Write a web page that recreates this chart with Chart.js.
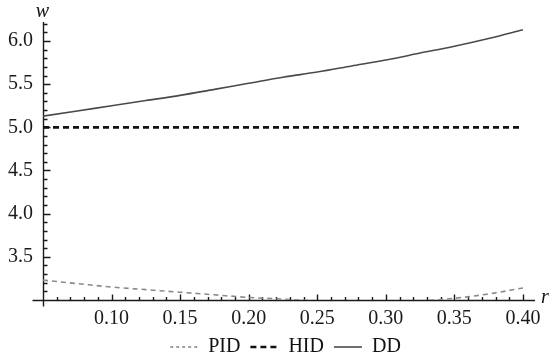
<!DOCTYPE html>
<html>
<head>
<meta charset="utf-8">
<script src="https://cdn.jsdelivr.net/npm/chart.js@4/dist/chart.umd.min.js"></script>
<style>
html, body { margin: 0; padding: 0; background: #fff; }
#wrap { width: 553px; height: 358px; }
</style>
</head>
<body>
<div id="wrap"><canvas id="myChart"></canvas></div>
<script>
// values
var rValues   = [0.05, 0.075, 0.10, 0.125, 0.15, 0.175, 0.20, 0.225, 0.25, 0.275, 0.30, 0.325, 0.35, 0.375, 0.40];
var pidValues = [3.23, 3.19, 3.15, 3.12, 3.09, 3.06, 3.03, 3.01, 2.99, 2.98, 2.98, 2.99, 3.02, 3.07, 3.14];
var hidValues = [5.0, 5.0, 5.0, 5.0, 5.0, 5.0, 5.0, 5.0, 5.0, 5.0, 5.0, 5.0, 5.0, 5.0, 5.0];
var ddValues  = [5.13, 5.19, 5.25, 5.31, 5.37, 5.44, 5.51, 5.58, 5.64, 5.71, 5.78, 5.86, 5.94, 6.03, 6.13];
var xTicks = [0.10, 0.15, 0.20, 0.25, 0.30, 0.35, 0.40];
var yTicks = [3.5, 4.0, 4.5, 5.0, 5.5, 6.0];

function pts(ys) {
    return rValues.map(function (r, i) { return { x: r, y: ys[i] }; });
}

var serif = "'Liberation Serif', 'Times New Roman', serif";

// Mathematica-like axes: crossing lines with major/minor ticks and italic axis names
var axesPlugin = {
    id: 'mmaAxes',
    afterLayout: function (chart) {
        // put the legend row where the original has it
        var lg = chart.legend;
        lg.top = 327; lg.bottom = 358;
        lg.left += 18; lg.right += 18;
    },
    beforeDatasetsDraw: function (chart) {
        var ctx = chart.ctx, xs = chart.scales.x, ys = chart.scales.y;
        var ax = Math.round(xs.getPixelForValue(0.05)) + 0.5;
        var ay = Math.round(ys.getPixelForValue(3.0)) + 0.5;
        ctx.save();
        ctx.strokeStyle = '#1a1a1a';
        ctx.lineWidth = 1.4;
        ctx.beginPath();
        ctx.moveTo(ax, ys.top);
        ctx.lineTo(ax, ay + 6);
        ctx.moveTo(ax - 11, ay);
        ctx.lineTo(xs.right, ay);
        // y ticks, every 0.1
        for (var i = 31; i <= 62; i++) {
            var py = Math.round(ys.getPixelForValue(i / 10)) + 0.5;
            var len = (i % 5 === 0) ? 7 : 4;
            ctx.moveTo(ax, py);
            ctx.lineTo(ax + len, py);
        }
        // x ticks, every 0.01
        for (var j = 6; j <= 40; j++) {
            var px = Math.round(xs.getPixelForValue(j / 100)) + 0.5;
            var l2 = (j % 5 === 0) ? 6 : 3.5;
            ctx.moveTo(px, ay);
            ctx.lineTo(px, ay - l2);
        }
        ctx.stroke();
        ctx.fillStyle = '#111';
        ctx.font = 'italic 20px ' + serif;
        ctx.textAlign = 'center';
        ctx.textBaseline = 'middle';
        ctx.fillText('w', ax - 1, ys.top - 10);
        ctx.textAlign = 'left';
        ctx.fillText('r', xs.right + 6, ay - 3);
        ctx.restore();
    }
};

var ctx = document.getElementById('myChart').getContext('2d');
var myChart = new Chart(ctx, {
    type: 'line',
    data: {
        datasets: [
            { label: 'PID', data: pts(pidValues), borderColor: '#8a8a8a', borderWidth: 1.6, borderDash: [5, 4] },
            { label: 'HID', data: pts(hidValues), borderColor: '#111', borderWidth: 2.6, borderDash: [6, 4] },
            { label: 'DD',  data: pts(ddValues),  borderColor: '#4a4a4a', borderWidth: 1.6 }
        ]
    },
    options: {
        responsive: true,
        maintainAspectRatio: false,
        animation: false,
        layout: { padding: { top: 22, right: 18, left: 0, bottom: 0 } },
        elements: {
            point: { radius: 0 },
            line: { cubicInterpolationMode: 'monotone', fill: false }
        },
        scales: {
            x: {
                type: 'linear',
                min: 0.05,
                max: 0.4088,
                afterFit: function (s) { s.height = 36; },
                afterBuildTicks: function (s) { s.ticks = xTicks.map(function (v) { return { value: v }; }); },
                grid: { display: false, drawTicks: false },
                border: { display: false },
                ticks: {
                    padding: 7,
                    color: '#1a1a1a',
                    maxRotation: 0,
                    font: { family: serif, size: 20 },
                    callback: function (v) { return v.toFixed(2); }
                }
            },
            y: {
                type: 'linear',
                min: 3.0,
                max: 6.22,
                afterFit: function (s) { s.width = 43; },
                afterBuildTicks: function (s) { s.ticks = yTicks.map(function (v) { return { value: v }; }); },
                grid: { display: false, drawTicks: false },
                border: { display: false },
                ticks: {
                    padding: 10,
                    color: '#1a1a1a',
                    font: { family: serif, size: 20 },
                    callback: function (v) { return v.toFixed(1); }
                }
            }
        },
        plugins: {
            tooltip: { enabled: false },
            legend: {
                position: 'bottom',
                maxHeight: 22,
                labels: {
                    usePointStyle: true,
                    pointStyle: 'line',
                    pointStyleWidth: 28,
                    padding: 10,
                    color: '#111',
                    font: { family: serif, size: 20 },
                    generateLabels: function (chart) {
                        var items = Chart.defaults.plugins.legend.labels.generateLabels(chart);
                        items.forEach(function (it) {
                            var ds = chart.data.datasets[it.datasetIndex];
                            it.lineDash = ds.label === 'PID' ? [3, 3] : (ds.borderDash || []);
                            it.lineWidth = ds.borderWidth;
                            it.strokeStyle = ds.borderColor;
                        });
                        return items;
                    }
                }
            }
        }
    },
    plugins: [axesPlugin]
});
</script>
</body>
</html>
